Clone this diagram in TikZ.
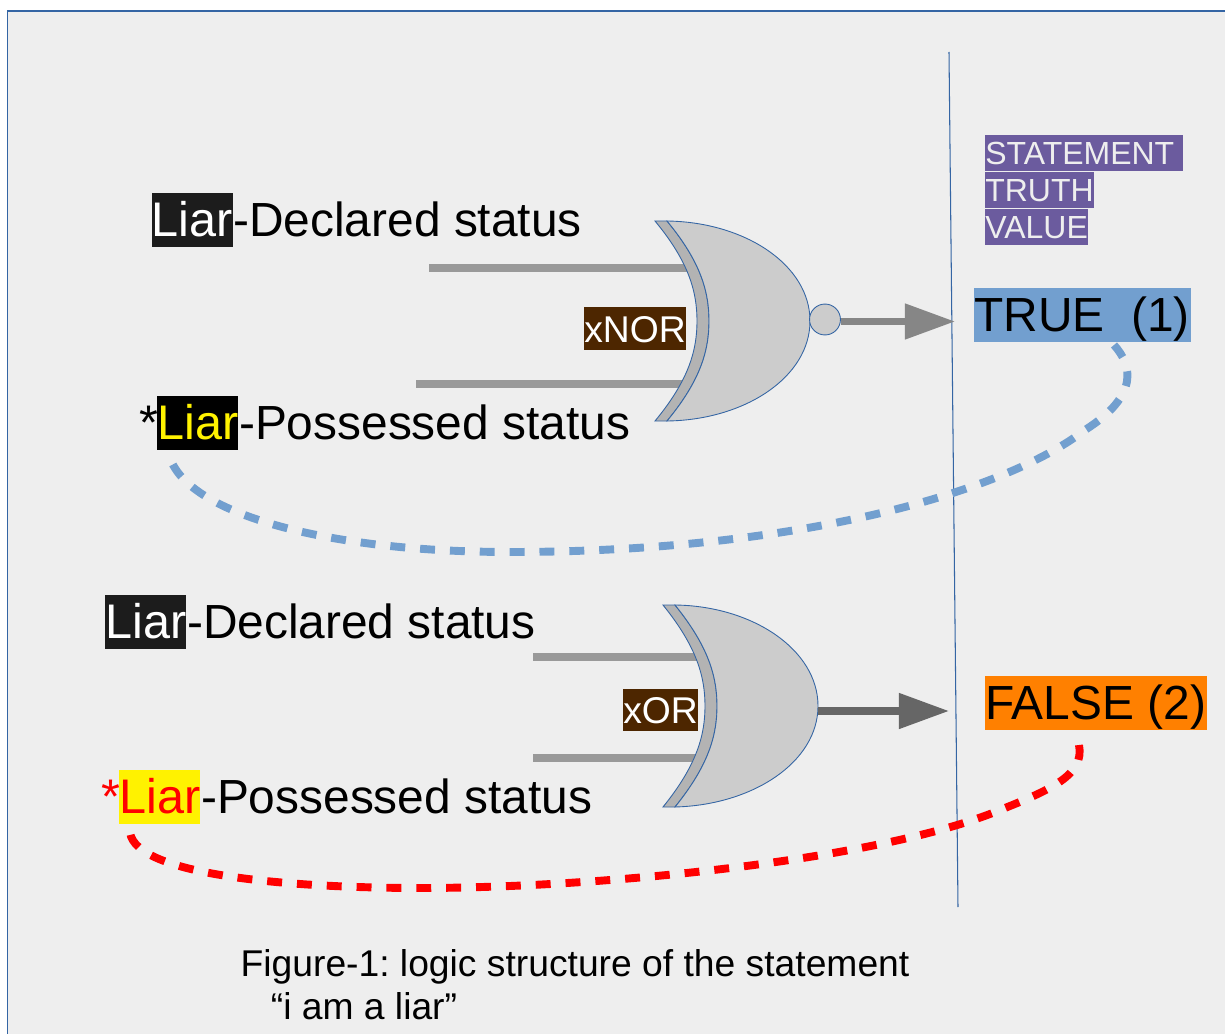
\documentclass[tikz,border=0pt]{standalone}
\usepackage{fontspec}
\setmainfont{Liberation Sans}
\frenchspacing
\usetikzlibrary{positioning,arrows.meta}
\definecolor{panel}{HTML}{EEEEEE}
\definecolor{rim}{HTML}{3465A4}
\definecolor{gatebody}{HTML}{CCCCCC}
\definecolor{gateback}{HTML}{B3B3B3}
\definecolor{wiregrey}{HTML}{999999}
\definecolor{linkblue}{HTML}{729FCF}
\definecolor{purplebox}{HTML}{6B5B9E}
\definecolor{brownbox}{HTML}{4D2600}
\definecolor{inkbox}{HTML}{1C1C1C}
\definecolor{orangebox}{HTML}{FF8000}
\begin{document}
\begin{tikzpicture}[x=0.02cm,y=-0.02cm,
                    big node/.style={inner sep=0pt,anchor=base west,font=\fontsize{27.65}{30}\selectfont,text height=24.75pt,text depth=5.9pt},
                    rest node/.style={big node,font=\fontsize{27.25}{30}\selectfont},
                    small node/.style={inner sep=0pt,anchor=base west,text=panel,font=\fontsize{18.2}{20}\selectfont,text height=16.7pt,text depth=3.8pt,fill=purplebox},
                    gate node/.style={inner sep=0pt,anchor=base west,text=white,fill=brownbox,font=\fontsize{21.2}{24}\selectfont,text height=19.9pt,text depth=4.55pt},
                    caption node/.style={inner sep=0pt,anchor=base west,font=\fontsize{21.2}{24}\selectfont},
                    wire/.style={line width=4.5pt,wiregrey},
                    outline/.style={draw=rim,line width=0.5pt},
                    out arrow/.style={line width=4pt,-{Triangle[length=28.5pt,width=19.5pt]}},
                    link/.style={line width=4.5pt,dash pattern=on 8.5pt off 8.5pt}
                   ]
  \useasboundingbox (0,0) rectangle (1225,1034);
  \path[fill=panel,draw=rim,line width=0.6pt] (7.5,1040) -- (7.5,11) -- (1230,11) -- (1230,1040);

  \coordinate (topA) at (429,268);
  \coordinate (topB) at (700,268);
  \coordinate (lowA) at (416,384);
  \coordinate (lowB) at (700,384);
  \coordinate (topC) at (533,657);
  \coordinate (topD) at (708,657);
  \coordinate (lowC) at (533,758);
  \coordinate (lowD) at (708,758);
  \path[wire]%
    (topA) edge (topB)
    (lowA) edge (lowB)
    (topC) edge (topD)
    (lowC) edge (lowD);

  % xnor gate
  \path[outline,fill=gateback] (655,221) -- (667,221) .. controls (701,262) and (709,292) .. (709,321)
     .. controls (709,350) and (701,380) .. (667,421) -- (655,421)
     .. controls (689,380) and (697,350) .. (697,321) .. controls (697,292) and (689,262) .. (655,221) -- cycle;
  \path[outline,fill=gatebody] (667,221) .. controls (745,222) and (810,265) .. (810,321)
     .. controls (810,377) and (745,420) .. (667,421)
     .. controls (701,380) and (709,350) .. (709,321) .. controls (709,292) and (701,262) .. (667,221) -- cycle;
  \node[circle,outline,fill=gatebody,inner sep=0pt,minimum size=17.6pt] (bubble) at (825,319.5) {};

  % xor gate
  \path[outline,fill=gateback] (663,605) -- (675,605) .. controls (709,647) and (717,677) .. (717,706)
     .. controls (717,735) and (709,765) .. (675,807) -- (663,807)
     .. controls (697,765) and (705,735) .. (705,706) .. controls (705,677) and (697,647) .. (663,605) -- cycle;
  \path[outline,fill=gatebody] (675,605) .. controls (753,606) and (818,650) .. (818,706)
     .. controls (818,762) and (753,805) .. (675,807)
     .. controls (709,765) and (717,735) .. (717,706) .. controls (717,677) and (709,647) .. (675,605) -- cycle;
  \coordinate (noseB) at (818,711);

  % truth value axis
  \coordinate (axisA) at (949,52);
  \coordinate (axisB) at (958,907);
  \draw[rim,line width=0.6pt] (axisA) -- (axisB);

  \coordinate (tipA) at (955,321.5);
  \coordinate (tipB) at (949,711);
  \draw[out arrow,color=gray!95] (bubble.east |- tipA) -- (tipA);
  \draw[out arrow,color=black!60] (noseB) -- (tipB);

  \node[gate node] (xnor) at (584,342) {xNOR};
  \node[gate node] (xor) at (623,723.5) {xOR};

  \node[big node,fill=inkbox,text=white] (liarA) at (151.2,236.7) {Liar};
  \node[rest node,base right=0pt of liarA] (declA) {-Declared status};
  \node[big node,fill=black,text=yellow] (liarB) at (157,439.5) {Liar};
  \node[rest node,base right=0pt of liarB] (possA) {-Possessed status};
  \node[big node,base left=0pt of liarB,anchor=base east,xshift=0.9pt] (starA) {*};

  \node[big node,fill=inkbox,text=white] (liarC) at (105,638.3) {Liar};
  \node[rest node,base right=0pt of liarC] (declB) {-Declared status};
  \node[big node,fill=yellow,text=red] (liarD) at (119,813.5) {Liar};
  \node[rest node,base right=0pt of liarD] (possB) {-Possessed status};
  \node[big node,base left=0pt of liarD,anchor=base east,text=red,xshift=0.9pt] (starB) {*};

  \node[small node] (stmt) at (985,164.3) {\makebox[112.7pt][l]{STATEMENT}};
  \node[small node] (truth) at (985,201.3) {TRUTH};
  \node[small node] (value) at (985,238.3) {VALUE};

  \node[rest node,fill=linkblue] (trueval) at (974,331.7) {\makebox[123.5pt][l]{TRUE\ \ (1)}};
  \node[rest node,fill=orangebox] (falseval) at (985,719.5) {\makebox[126.3pt][l]{FALSE (2)}};

  \coordinate (startA) at (1114,345);
  \coordinate (endA) at (170,458);
  \coordinate (startB) at (1079,745);
  \coordinate (endB) at (130,828);
  \draw[link,linkblue] (startA) .. controls (1132,365) and (1140,395) .. (1085,430)
     .. controls (1000,495) and (790,552) .. (510,552)
     .. controls (330,552) and (190,515) .. (endA);
  \draw[link,red] (startB) .. controls (1085,775) and (1050,790) .. (1000,810)
     .. controls (880,860) and (600,888) .. (420,888)
     .. controls (290,888) and (125,875) .. (endB);

  \node[caption node] (capA) at (240.3,976) {Figure-1: logic structure of the statement};
  \node[caption node] (capB) at (270.5,1019) {“i am a liar”};
\end{tikzpicture}
\end{document}
